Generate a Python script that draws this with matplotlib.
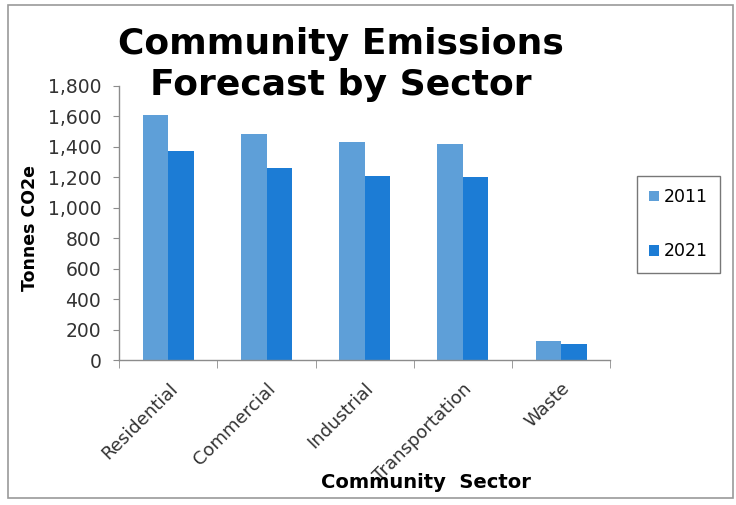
import matplotlib.pyplot as plt
import matplotlib.patches as mpatches
import numpy as np

plt.rcParams["font.family"] = ["DejaVu Sans"]

sectors = ["Residential", "Commercial", "Industrial", "Transportation", "Waste"]
years = ["2011", "2021"]
emissions_2011 = [1610, 1485, 1430, 1420, 125]
emissions_2021 = [1370, 1260, 1205, 1200, 105]
y_ticks = [0, 200, 400, 600, 800, 1000, 1200, 1400, 1600, 1800]

colors = ["#5E9FD8", "#1C7CD5"]
axis_grey = "#8C8C8C"

fig = plt.figure(figsize=(7.36, 5.05), dpi=100)
ax = fig.add_axes([0.162, 0.287, 0.667, 0.543])

x = np.arange(len(sectors))
w = 0.26
ax.bar(x - w / 2, emissions_2011, width=w, color=colors[0], label=years[0])
ax.bar(x + w / 2, emissions_2021, width=w, color=colors[1], label=years[1])

ax.set_xlim(-0.5, len(sectors) - 0.5)
ax.set_ylim(0, 1800)
ax.set_yticks(y_ticks)
ax.set_yticklabels([f"{v:,}" for v in y_ticks], fontsize=13.5, color="#333333")

# category labels at centres, tick marks at category boundaries
ax.set_xticks(x)
ax.set_xticklabels(sectors, rotation=45, ha="right", rotation_mode="anchor",
                   fontsize=13, color="#333333")
ax.set_xticks(np.arange(-0.5, len(sectors)), minor=True)
ax.tick_params(axis="x", which="major", length=0, pad=14)
ax.tick_params(axis="x", which="minor", length=6, color=axis_grey, direction="out")
ax.tick_params(axis="y", length=4, color=axis_grey, direction="out", pad=9)

for s in ["top", "right"]:
    ax.spines[s].set_visible(False)
for s in ["left", "bottom"]:
    ax.spines[s].set_color(axis_grey)
    ax.spines[s].set_linewidth(1.0)

fig.text(0.041, 0.548, "Tonnes CO2e", rotation=90, ha="center", va="center",
         fontsize=12.5, fontweight="bold")

fig.text(0.463, 0.872, "Community Emissions\nForecast by Sector", ha="center", va="center",
         fontsize=26, fontweight="bold", linespacing=1.25)
fig.text(0.579, 0.044, "Community  Sector", ha="center", va="center",
         fontsize=14, fontweight="bold")

leg = fig.legend(loc="center", bbox_to_anchor=(0.922, 0.556), fontsize=12.5,
                 frameon=True, fancybox=False, edgecolor="#555555",
                 handlelength=0.55, handleheight=0.55, handletextpad=0.3,
                 labelspacing=2.1, borderpad=0.7)
leg.get_frame().set_linewidth(1.0)

# outer chart-area border
fig.add_artist(mpatches.Rectangle((0.011, 0.014), 0.985, 0.976, transform=fig.transFigure,
                                  fill=False, edgecolor="#9A9A9A", linewidth=1.2))

fig.savefig("out.png", dpi=100)
